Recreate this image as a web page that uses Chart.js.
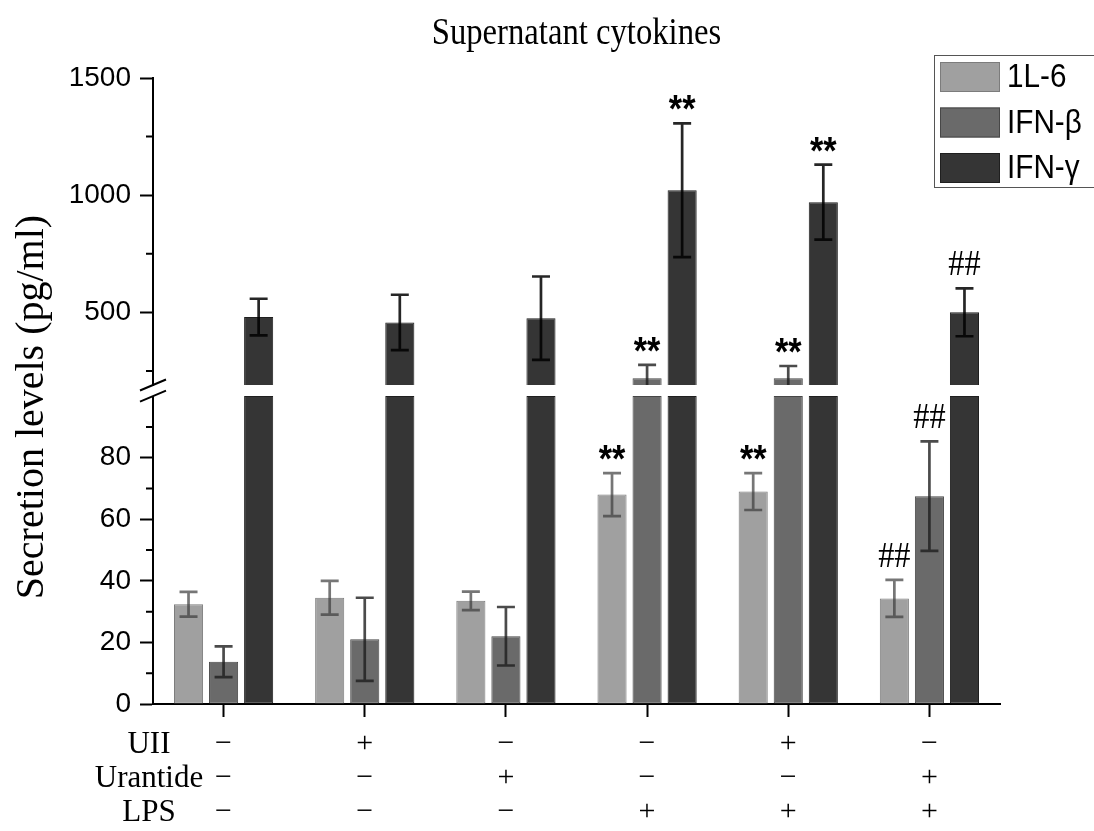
<!DOCTYPE html>
<html>
<head>
<meta charset="utf-8">
<script src="https://cdn.jsdelivr.net/npm/chart.js@4.4.1/dist/chart.umd.min.js"></script>
<style>
  html, body { margin: 0; padding: 0; background: #fff; }
  #wrap { width: 1094px; height: 831px; }
</style>
</head>
<body>
<div id="wrap"><canvas id="myChart"></canvas></div>
<script>
// treatment combinations (rows: UII, Urantide, LPS)
var groups = [['−','−','−'], ['+','−','−'], ['−','+','−'], ['−','−','+'], ['+','−','+'], ['−','+','+']];
var rowNames = ['UII', 'Urantide', 'LPS'];

var il6 = [32.4, 34.5, 33.5, 68, 69, 34.3];
var il6Err = [4, 5.5, 3, 7, 6, 6];
var ifnB = [13.7, 21, 22, 219, 219, 67.5];
var ifnBErr = [5, 13.5, 9.5, 57, 52, 17.8];
var ifnG = [480, 457, 475, 1021, 970, 500];
var ifnGErr = [78, 118, 178, 285, 160, 102];

var il6Marks = ['', '', '', '**', '**', '##'];
var ifnBMarks = ['', '', '', '**', '**', '##'];
var ifnGMarks = ['', '', '', '**', '**', '##'];

var lowerTicks = [0, 20, 40, 60, 80];
var lowerMinor = [10, 30, 50, 70, 90];
var upperTicks = [500, 1000, 1500];
var upperMinor = [250, 750, 1250];

// broken axis: lower part 0..100, upper part 190..1500
var LOW_MAX = 100, LOW_TOP = 103.6, UP_MIN = 190, UP_MAX = 1500;

var colors = ['#a0a0a0', '#6a6a6a', '#353535'];
var borders = ['#7c7c7c', '#474747', '#1f1f1f'];
var errColors = ['rgba(60,60,60,0.7)', 'rgba(30,30,30,0.8)', 'rgba(0,0,0,0.85)'];
var names = ['1L-6', 'IFN-β', 'IFN-γ'];

function lowPart(arr) { return arr.map(function (v) { return Math.min(v, LOW_MAX); }); }
function upPart(arr) { return arr.map(function (v) { return v > UP_MIN ? v : null; }); }

var series = [
  { vals: il6, errs: il6Err, marks: il6Marks, low: 0, up: null },
  { vals: ifnB, errs: ifnBErr, marks: ifnBMarks, low: 1, up: 3 },
  { vals: ifnG, errs: ifnGErr, marks: ifnGMarks, low: 2, up: 4 }
];

function barDs(label, data, axis, stack, k) {
  return {
    label: label, data: data, yAxisID: axis, stack: stack,
    backgroundColor: colors[k], borderColor: borders[k], borderWidth: 1, borderSkipped: false,
    categoryPercentage: 0.745, barPercentage: 0.83
  };
}

var data = {
  labels: groups,
  datasets: [
    barDs(names[0], lowPart(il6), 'yLow', 's1', 0),
    barDs(names[1], lowPart(ifnB), 'yLow', 's2', 1),
    barDs(names[2], lowPart(ifnG), 'yLow', 's3', 2),
    barDs(names[1], upPart(ifnB), 'yUp', 's2', 1),
    barDs(names[2], upPart(ifnG), 'yUp', 's3', 2)
  ]
};

function drawErr(ctx, x, v, e, sc, segMin, segMax, color) {
  var hi = v + e, lo = v - e;
  var top = Math.min(hi, segMax), bot = Math.max(lo, segMin);
  if (top <= bot) return;
  ctx.strokeStyle = color;
  ctx.lineWidth = 2.7;
  ctx.beginPath();
  ctx.moveTo(x, sc.getPixelForValue(bot));
  ctx.lineTo(x, sc.getPixelForValue(top));
  if (hi <= segMax) {
    ctx.moveTo(x - 9, sc.getPixelForValue(hi));
    ctx.lineTo(x + 9, sc.getPixelForValue(hi));
  }
  if (lo >= segMin) {
    ctx.moveTo(x - 9, sc.getPixelForValue(lo));
    ctx.lineTo(x + 9, sc.getPixelForValue(lo));
  }
  ctx.stroke();
}

// text drawn a little condensed horizontally, like the reference figure
function tallText(ctx, txt, x, y, font, sx) {
  ctx.save();
  ctx.translate(x, y);
  ctx.scale(sx, 1);
  ctx.font = font;
  ctx.fillText(txt, 0, 0);
  ctx.restore();
}

var extras = {
  id: 'extras',
  afterDatasetsDraw: function (chart) {
    var ctx = chart.ctx;
    var low = chart.scales.yLow, up = chart.scales.yUp;
    ctx.save();
    series.forEach(function (s, k) {
      s.vals.forEach(function (v, i) {
        var inLow = v <= LOW_MAX;
        var ds = inLow ? s.low : s.up;
        var x = chart.getDatasetMeta(ds).data[i].x;
        var sc = inLow ? low : up;
        var segMin = inLow ? 0 : UP_MIN, segMax = inLow ? LOW_MAX : UP_MAX;
        drawErr(ctx, x, v, s.errs[i], sc, segMin, segMax, errColors[k]);
        var m = s.marks[i];
        if (m) {
          var yTop = sc.getPixelForValue(Math.min(v + s.errs[i], segMax));
          ctx.fillStyle = '#000';
          ctx.textAlign = 'center';
          ctx.textBaseline = 'alphabetic';
          if (m === '**') {
            tallText(ctx, m, x, yTop - 1, 'bold 38px "Liberation Sans"', 0.9);
          } else {
            tallText(ctx, m, x, yTop - 13, '36px "Liberation Serif"', 0.9);
          }
        }
      });
    });
    ctx.restore();
  },
  afterDraw: function (chart) {
    var ctx = chart.ctx;
    var low = chart.scales.yLow, up = chart.scales.yUp, xs = chart.scales.x;
    var ax = low.right;
    ctx.save();
    // minor ticks
    ctx.strokeStyle = '#000';
    ctx.lineWidth = 2;
    ctx.beginPath();
    lowerMinor.forEach(function (v) {
      var y = low.getPixelForValue(v);
      ctx.moveTo(ax - 7, y); ctx.lineTo(ax, y);
    });
    upperMinor.forEach(function (v) {
      var y = up.getPixelForValue(v);
      ctx.moveTo(ax - 7, y); ctx.lineTo(ax, y);
    });
    ctx.stroke();
    // axis break
    var yA = up.getPixelForValue(UP_MIN), yB = low.getPixelForValue(LOW_MAX);
    ctx.fillStyle = '#fff';
    ctx.fillRect(ax - 3, yA + 1, 6, yB - yA - 1);
    ctx.beginPath();
    [yA, yB].forEach(function (y) {
      ctx.moveTo(ax - 13, y + 5.5); ctx.lineTo(ax + 13, y - 5.5);
    });
    ctx.stroke();

    // chart title, centred over the plot area
    ctx.fillStyle = '#000';
    ctx.textAlign = 'center';
    ctx.textBaseline = 'middle';
    tallText(ctx, 'Supernatant cytokines', (chart.chartArea.left + chart.chartArea.right) / 2, 34,
      '38px "Liberation Serif"', 0.86);

    // y title
    ctx.translate(32, 407);
    ctx.rotate(-Math.PI / 2);
    ctx.font = '40px "Liberation Serif"';
    ctx.fillText('Secretion levels (pg/ml)', 0, 0);
    ctx.setTransform(1, 0, 0, 1, 0, 0);

    // treatment row names
    ctx.textAlign = 'center';
    ctx.textBaseline = 'middle';
    var lh = 34;
    var y0 = xs.top + 13 + 10;
    rowNames.forEach(function (n, r) {
      ctx.font = '31px "Liberation Serif"';
      ctx.fillText(n, 149, y0 + lh * (r + 0.5) + 1);
    });

    // legend
    ctx.strokeStyle = '#555';
    ctx.lineWidth = 1;
    ctx.strokeRect(934.5, 55.5, 200, 132);
    ctx.textAlign = 'left';
    names.forEach(function (n, k) {
      var cy = 77 + 45.5 * k;
      ctx.fillStyle = colors[k];
      ctx.fillRect(940, cy - 15, 60, 30);
      ctx.strokeStyle = borders[k];
      ctx.strokeRect(940.5, cy - 14.5, 59, 29);
      ctx.fillStyle = '#000';
      tallText(ctx, n, 1007, cy + 1, '33px "Liberation Sans"', 0.9);
    });
    ctx.restore();
  }
};

var tickGrid = { drawOnChartArea: false, tickLength: 13, tickWidth: 2, tickColor: '#000' };
var axisBorder = { color: '#000', width: 2 };
var tickFont = { family: 'Liberation Sans', size: 28 };
var plain = function (v) { return String(v); };

var config = {
  type: 'bar',
  data: data,
  options: {
    responsive: true,
    maintainAspectRatio: false,
    animation: false,
    devicePixelRatio: 1,
    layout: { padding: { left: 0, right: 94, top: 78, bottom: 0 } },
    plugins: {
      legend: { display: false },
      tooltip: { enabled: false },
      title: { display: false }
    },
    scales: {
      x: {
        type: 'category',
        offset: true,
        grid: { offset: false, drawOnChartArea: false, tickLength: 13, tickWidth: 2, tickColor: '#000' },
        border: axisBorder,
        ticks: {
          color: '#000', autoSkip: false, maxRotation: 0, padding: 10,
          font: { family: 'Liberation Serif', size: 30, lineHeight: 1.133 }
        },
        afterFit: function (s) { s.height = 127; }
      },
      yLow: {
        type: 'linear', position: 'left', stack: 'v', stackWeight: 319,
        min: 0, max: LOW_TOP, stacked: false,
        afterBuildTicks: function (s) { s.ticks = lowerTicks.map(function (v) { return { value: v }; }); },
        grid: tickGrid, border: axisBorder,
        ticks: { color: '#000', font: tickFont, padding: 9, callback: plain },
        afterFit: function (s) { s.width = 153; }
      },
      yUp: {
        type: 'linear', position: 'left', stack: 'v', stackWeight: 307,
        min: UP_MIN, max: UP_MAX, stacked: false,
        afterBuildTicks: function (s) { s.ticks = upperTicks.map(function (v) { return { value: v }; }); },
        grid: tickGrid, border: axisBorder,
        ticks: { color: '#000', font: tickFont, padding: 9, callback: plain },
        afterFit: function (s) { s.width = 153; }
      }
    }
  },
  plugins: [extras]
};

var myChart = new Chart(document.getElementById('myChart'), config);
</script>
</body>
</html>
